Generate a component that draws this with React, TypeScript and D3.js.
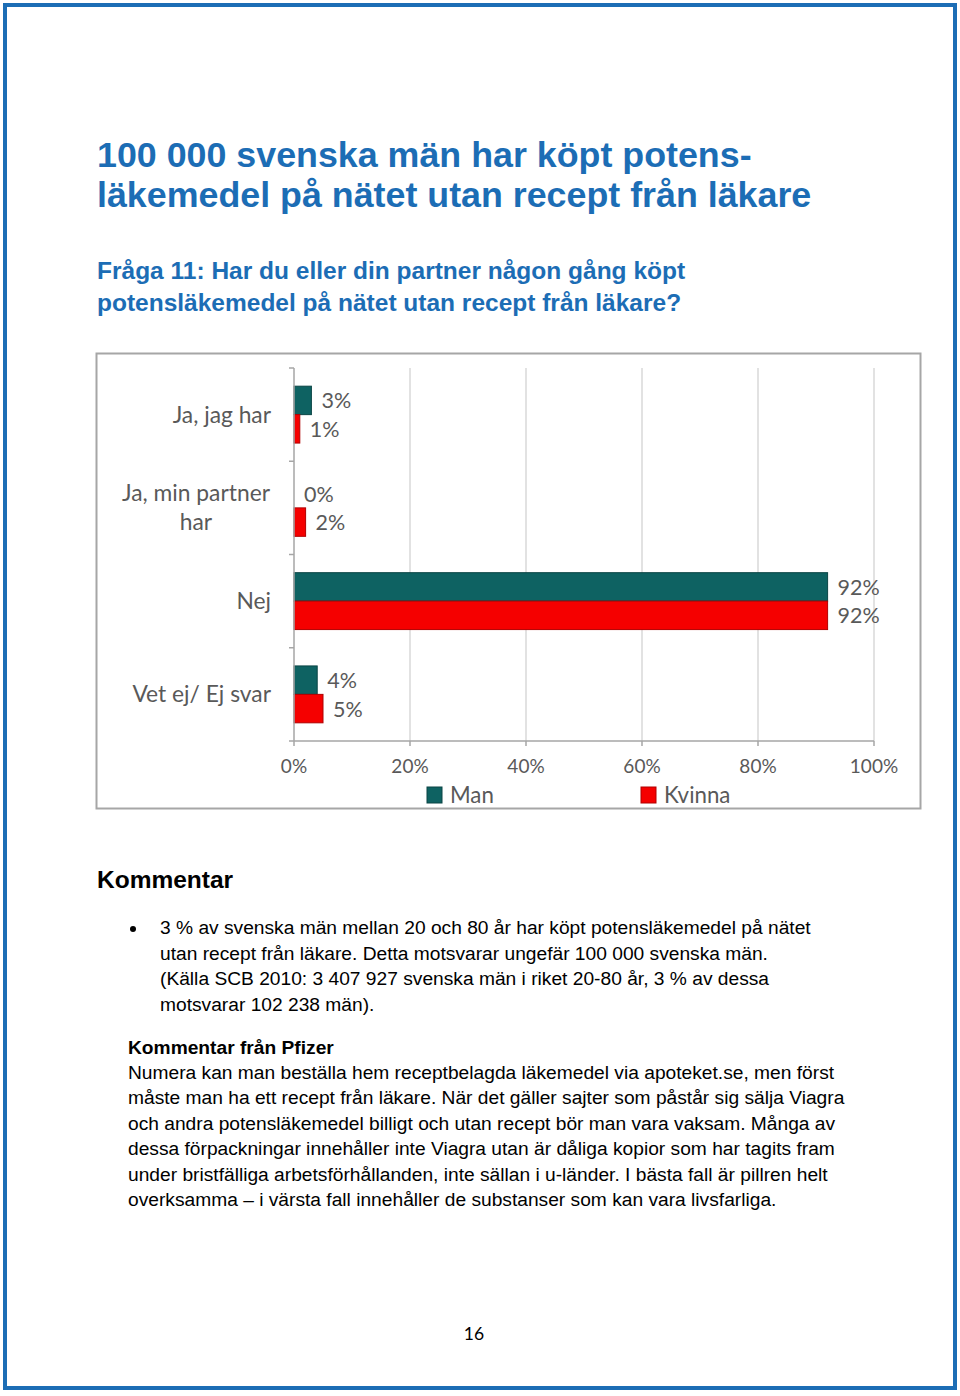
import React from 'react';
import { scaleLinear, scaleBand } from 'd3';

const categories = ['Ja, jag har', 'Ja, min partner har', 'Nej', 'Vet ej/ Ej svar'];
const categoryLines = [['Ja, jag har'], ['Ja, min partner', 'har'], ['Nej'], ['Vet ej/ Ej svar']];
const series = ['Man', 'Kvinna'];
const manValues = [3, 0, 92, 4];
const kvinnaValues = [1, 2, 92, 5];
const xTicks = [0, 20, 40, 60, 80, 100];

const titleLines = ['100 000 svenska män har köpt potens-', 'läkemedel på nätet utan recept från läkare'];
const questionLines = ['Fråga 11: Har du eller din partner någon gång köpt', 'potensläkemedel på nätet utan recept från läkare?'];
const bulletLines = [
  '3 % av svenska män mellan 20 och 80 år har köpt potensläkemedel på nätet',
  'utan recept från läkare. Detta motsvarar ungefär 100 000 svenska män.',
  '(Källa SCB 2010: 3 407 927 svenska män i riket 20-80 år, 3 % av dessa',
  'motsvarar 102 238 män).',
];
const pfizerLines = [
  'Numera kan man beställa hem receptbelagda läkemedel via apoteket.se, men först',
  'måste man ha ett recept från läkare. När det gäller sajter som påstår sig sälja Viagra',
  'och andra potensläkemedel billigt och utan recept bör man vara vaksam. Många av',
  'dessa förpackningar innehåller inte Viagra utan är dåliga kopior som har tagits fram',
  'under bristfälliga arbetsförhållanden, inte sällan i u-länder. I bästa fall är pillren helt',
  'overksamma – i värsta fall innehåller de substanser som kan vara livsfarliga.',
];

const BLUE = '#1c6db5';
const colors = { Man: '#0e6262', Kvinna: '#f50000' };
const strokes = { Man: '#0a4545', Kvinna: '#b00000' };
const CAL = 'Lato, "Open Sans", sans-serif';
const ARIAL = '"Liberation Sans", Arial, sans-serif';

const App = () => {
  const x = scaleLinear().domain([0, 100]).range([294, 874]);
  const y = scaleBand().domain(categories).range([368, 741]).paddingInner(0.39).paddingOuter(0.195);
  const sub = scaleBand().domain(series).range([0, y.bandwidth()]);
  const step = y.step();
  const boundaries = categories.map((c) => y(c) - (step - y.bandwidth()) / 2).concat([741]);

  const rows = categories.map((c, i) => ({ c, Man: manValues[i], Kvinna: kvinnaValues[i] }));

  return (
    <svg width={960} height={1396} style={{ position: 'absolute', left: 0, top: 0, background: '#fff' }}>
      <rect x={5} y={5} width={950} height={1383} fill="none" stroke={BLUE} strokeWidth={4} />

      {titleLines.map((t, i) => (
        <text key={t} x={97} y={167 + i * 40} fill={BLUE} fontFamily={ARIAL} fontWeight="bold" fontSize={35.8}>{t}</text>
      ))}
      {questionLines.map((t, i) => (
        <text key={t} x={97} y={279 + i * 32} fill={BLUE} fontFamily={ARIAL} fontWeight="bold" fontSize={24.5}>{t}</text>
      ))}

      {/* chart */}
      <rect x={96.5} y={353.5} width={824} height={455} fill="#fff" stroke="#a6a6a6" strokeWidth={2} />
      {xTicks.filter((t) => t > 0).map((t) => (
        <line key={t} x1={x(t)} x2={x(t)} y1={368} y2={741} stroke="#d9d9d9" strokeWidth={1.5} />
      ))}
      {rows.map((r) =>
        series.map((s) => (
          <rect key={r.c + s} x={x(0)} y={y(r.c) + sub(s)} width={x(r[s]) - x(0)} height={sub.bandwidth()}
            fill={colors[s]} stroke={strokes[s]} strokeWidth={r[s] > 0 ? 1 : 0} />
        ))
      )}
      <line x1={294} x2={294} y1={368} y2={741} stroke="#a6a6a6" strokeWidth={1.5} />
      <line x1={294} x2={874} y1={741} y2={741} stroke="#a6a6a6" strokeWidth={1.5} />
      {boundaries.map((b, i) => (
        <line key={i} x1={289} x2={294} y1={b} y2={b} stroke="#a6a6a6" strokeWidth={1.5} />
      ))}
      {xTicks.map((t) => (
        <g key={t}>
          <line x1={x(t)} x2={x(t)} y1={741} y2={746} stroke="#a6a6a6" strokeWidth={1.5} />
          <text x={x(t)} y={773} textAnchor="middle" fill="#595959" fontFamily={CAL} fontSize={19}>{t}%</text>
        </g>
      ))}
      {rows.map((r) =>
        series.map((s) => (
          <text key={'l' + r.c + s} x={x(r[s]) + 10} y={y(r.c) + sub(s) + sub.bandwidth() / 2 + 8}
            fill="#595959" fontFamily={CAL} fontSize={21.5}>{r[s]}%</text>
        ))
      )}
      {categoryLines.map((lines, i) => {
        const cy = y(categories[i]) + y.bandwidth() / 2;
        return lines.map((l, j) => (
          <text key={l} x={lines.length > 1 ? 196 : 271} y={cy + 8 + (j - (lines.length - 1) / 2) * 29}
            textAnchor={lines.length > 1 ? 'middle' : 'end'} fill="#595959" fontFamily={CAL} fontSize={22.8}>{l}</text>
        ));
      })}
      {series.map((s, i) => (
        <g key={s} transform={`translate(${i === 0 ? 427 : 641},787)`}>
          <rect width={15} height={16} fill={colors[s]} stroke={strokes[s]} />
          <text x={23} y={16} fill="#595959" fontFamily={CAL} fontSize={22.3}>{s}</text>
        </g>
      ))}

      {/* comments */}
      <text x={97} y={888} fontFamily={ARIAL} fontWeight="bold" fontSize={24.5} fill="#000">Kommentar</text>
      <circle cx={133} cy={929} r={3} fill="#000" />
      {bulletLines.map((t, i) => (
        <text key={t} x={160} y={934 + i * 25.5} fontFamily={ARIAL} fontSize={19.2} fill="#000">{t}</text>
      ))}
      <text x={128} y={1054} fontFamily={ARIAL} fontWeight="bold" fontSize={19.2} fill="#000">Kommentar från Pfizer</text>
      {pfizerLines.map((t, i) => (
        <text key={t} x={128} y={1079 + i * 25.4} fontFamily={ARIAL} fontSize={19.2} fill="#000">{t}</text>
      ))}
      <text x={474} y={1340} textAnchor="middle" fontFamily={CAL} fontSize={17.5} fill="#000">16</text>
    </svg>
  );
};

export default App;
